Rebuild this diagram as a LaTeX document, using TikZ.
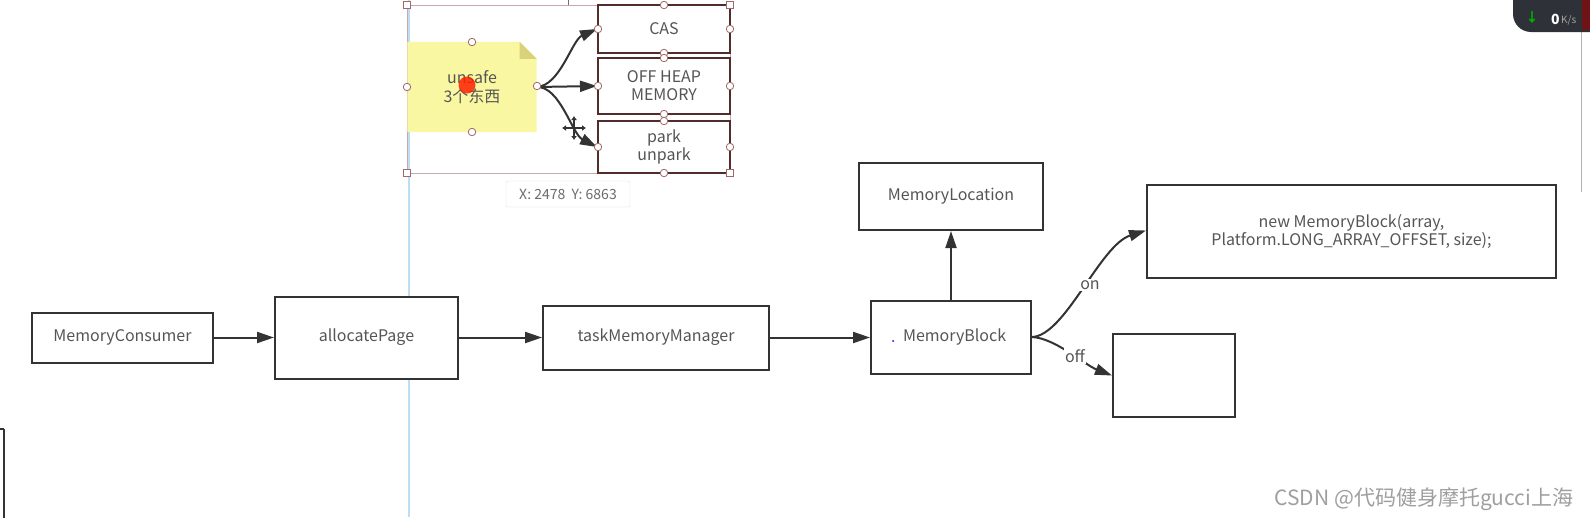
\documentclass[tikz,border=0pt]{standalone}
\usepackage{fontspec}
\setmainfont{Noto Sans CJK SC}
\usetikzlibrary{arrows.meta}
\definecolor{linec}{HTML}{333333}
\definecolor{textc}{HTML}{555555}
\definecolor{handlec}{HTML}{A06A6A}
\definecolor{selc}{HTML}{C8A8AE}
\definecolor{stickyc}{HTML}{FAF7A2}
\definecolor{foldc}{HTML}{D9D27A}
\definecolor{guidec}{HTML}{BCDDF3}
\definecolor{widgetc}{HTML}{2E3238}
\begin{document}
\begin{tikzpicture}[x=1pt,y=-1pt,
  box/.style={draw=linec,line width=2pt,fill=white,text=textc,align=center,inner sep=0pt,
    font=\fontsize{16}{18}\selectfont},
  selbox/.style={box,draw=linec!85!red},
  arr/.style={draw=linec,line width=2pt,-{Triangle[length=17pt,width=11pt]}},
  lbl/.style={fill=white,text=textc,inner sep=1pt,font=\fontsize{16}{18}\selectfont},
  handle/.style={circle,draw=handlec,fill=white,line width=0.8pt,minimum size=7.5pt,inner sep=0pt},
  sq/.style={rectangle,draw=handlec,fill=white,line width=0.8pt,minimum size=7pt,inner sep=0pt}]
\useasboundingbox (0,0) rectangle (1590,517);
\fill[white] (0,0) rectangle (1590,517);
% guide line and UI bits
\draw[guidec,line width=1.5pt] (409,0) -- (409,517);
\draw[linec!70,line width=1pt] (568,0) -- (568,5);
\draw[gray!60,line width=1pt] (1581,0) -- (1581,192);
\draw[linec,line width=2pt] (4,429) -- (4,520);
\draw[linec,line width=2pt] (-5,429) -- (4,429);
% top-right widget
\fill[widgetc,rounded corners=18pt] (1513,-30) rectangle (1640,32);
\fill[red!60!black,opacity=0.6] (1582,0) rectangle (1590,30);
\node[inner sep=0pt,text=green!70!black,font=\fontsize{13}{13}\selectfont\bfseries] (wa) at (1532,18) {↓};
\node[inner sep=0pt,anchor=west,font=\fontsize{14}{14}\selectfont\bfseries,text=white] (wz) at (1551,19) {0};
\node[inner sep=0pt,anchor=west,font=\fontsize{10}{10}\selectfont,text=gray!70] (wk) at (1561,20) {K/s};
% selection rectangle
\draw[selc,line width=1pt] (407,5) rectangle (730,173);
% sticky note
\node[minimum width=129pt,minimum height=90pt,inner sep=0pt] (us) at (472,87) {};
\fill[stickyc] (us.north west) -- ([xshift=-17pt]us.north east) -- ([yshift=-17pt]us.north east) -- (us.south east) -- (us.south west) -- cycle;
\fill[foldc] ([xshift=-17pt]us.north east) -- ([yshift=-17pt]us.north east) -- ([xshift=-17pt,yshift=-17pt]us.north east) -- cycle;
\node[text=textc,align=center,font=\fontsize{16}{19}\selectfont] (ust) at (472,87) {unsafe\\3个东西};
\fill[red!75!orange,opacity=0.85] (467,85) circle (8.5pt);
% unsafe boxes
\node[selbox,minimum width=132pt,minimum height=48pt] (cas) at (664,29) {CAS};
\node[selbox,minimum width=132pt,minimum height=56pt] (ohm) at (664,86) {OFF HEAP\\MEMORY};
\node[selbox,minimum width=132pt,minimum height=52pt] (pk) at (664,147) {park\\unpark};
\draw[arr] (us.east) .. controls (560,86) and (572,40) .. (cas.west);
\draw[arr] (us.east) -- (ohm.west);
\draw[arr] (us.east) .. controls (560,86) and (572,134) .. (pk.west);
% handles
\foreach \p in {(472,42),(472,132),(407,87),(537,86),(664,5),(664,53),(664,58),(664,114),(664,121),(664,173),(598,29),(730,29),(598,86),(730,86),(598,147),(730,147)}
  \node[handle] at \p {};
\foreach \p in {(407,5),(730,5),(407,173),(730,173)}
  \node[sq] at \p {};
% move cursor
\begin{scope}[line width=1.4pt,linec]
  \draw[-{Latex[length=4pt,width=6pt]}] (574,128) -- (574,116);
  \draw[-{Latex[length=4pt,width=6pt]}] (574,128) -- (574,140);
  \draw[-{Latex[length=4pt,width=6pt]}] (574,128) -- (562,128);
  \draw[-{Latex[length=4pt,width=6pt]}] (574,128) -- (586,128);
\end{scope}
% tooltip
\node[draw=gray!25,fill=white,rounded corners=2pt,minimum width=124pt,minimum height=26pt,inner sep=0pt,
  text=gray!85!black,font=\fontsize{14}{14}\selectfont] (tip) at (568,194) {X: 2478\ \ Y: 6863};
% main flow
\node[box,minimum width=181pt,minimum height=50pt] (mc) at (122.5,337.5) {MemoryConsumer};
\node[box,minimum width=183pt,minimum height=82pt] (ap) at (366.5,337.5) {allocatePage};
\node[box,minimum width=226pt,minimum height=64pt] (tmm) at (656,337.5) {taskMemoryManager};
\node[box,minimum width=160pt,minimum height=73pt] (mb) at (951,337) {\ \ MemoryBlock};
\fill[blue] (893,341) circle (1pt);
\node[box,minimum width=184pt,minimum height=67pt] (ml) at (951,196.5) {MemoryLocation};
\node[box,minimum width=409pt,minimum height=93pt] (nb) at (1351.5,231.5) {new MemoryBlock(array,\\Platform.LONG\_ARRAY\_OFFSET, size);};
\node[box,minimum width=122pt,minimum height=83pt] (eb) at (1174,375.5) {};
\draw[arr] (mc.east) -- (ap.west);
\draw[arr] (ap.east) -- (tmm.west);
\draw[arr] (tmm.east) -- (tmm.east -| mb.west);
\draw[arr] (mb.north) -- (ml.south);
\draw[arr] (mb.east) .. controls (1065,336) and (1100,245) .. ([yshift=1pt]nb.west);
\draw[arr] (mb.east) .. controls (1055,338) and (1085,365) .. (eb.west);
\node[lbl] (on) at (1090,285) {on};
\node[lbl] (off) at (1075,356) {off};
% watermark
\node[text=gray!75,inner sep=0pt,font=\fontsize{21}{21}\selectfont] (wm) at (1424,499) {CSDN @代码健身摩托gucci上海};
\end{tikzpicture}
\end{document}
